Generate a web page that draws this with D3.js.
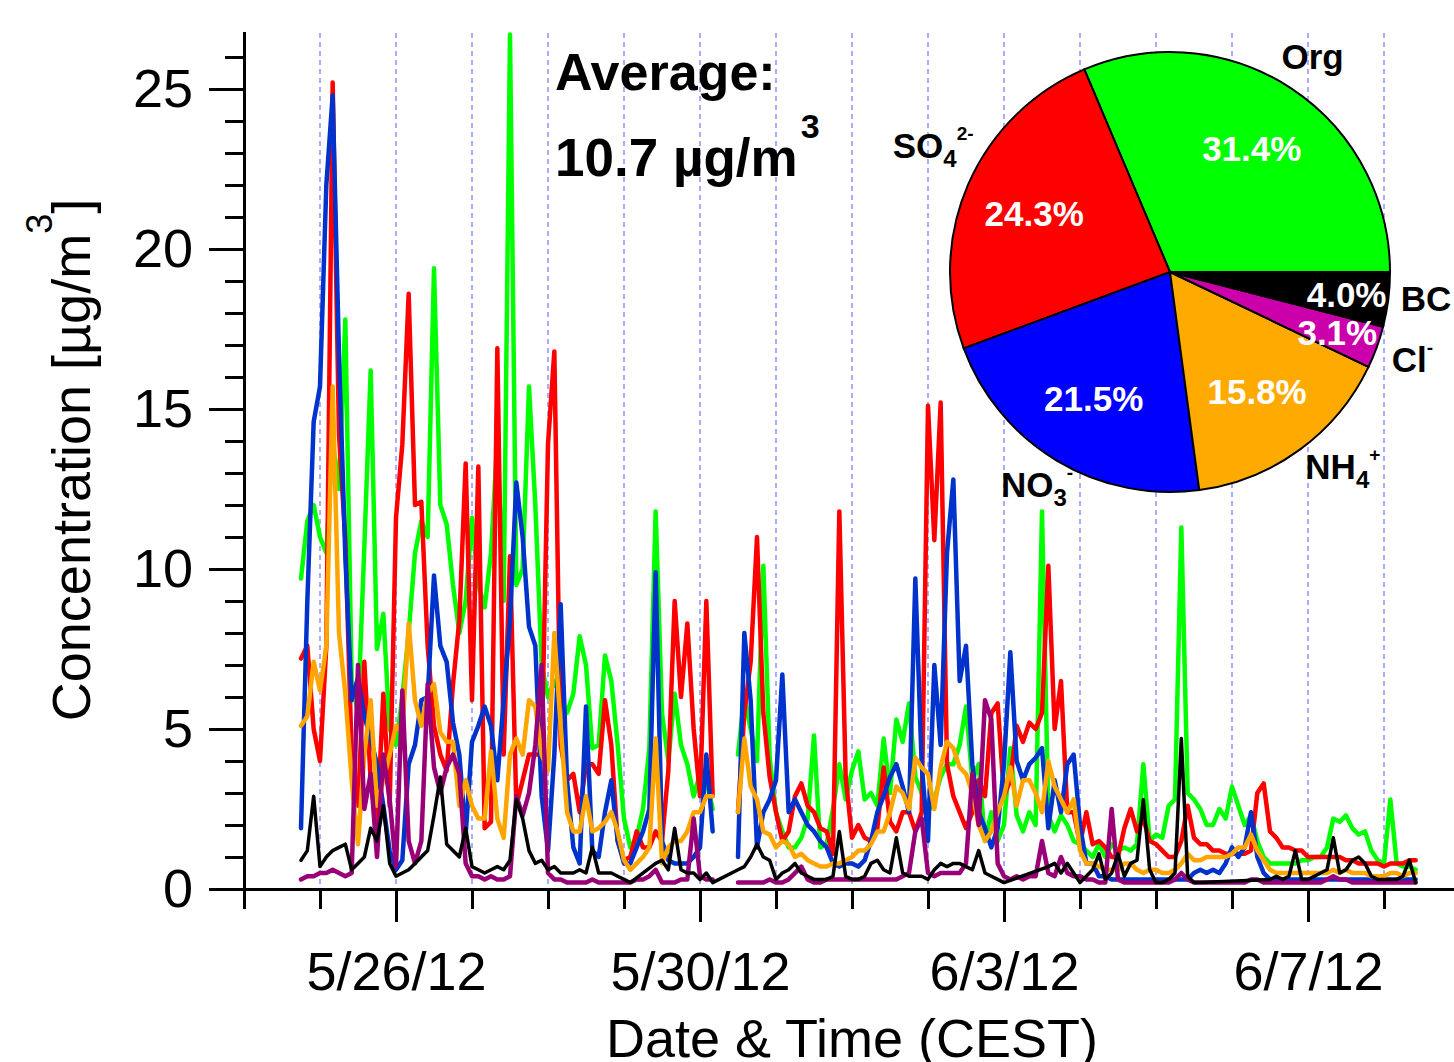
<!DOCTYPE html>
<html>
<head>
<meta charset="utf-8">
<title>PM1 composition</title>
<script src="https://cdn.jsdelivr.net/npm/d3@7/dist/d3.min.js"></script>
<style>
	body { margin: 0; background: #fff; }
	#chart { display: block; font-family: "Liberation Sans", Arial, sans-serif; }
</style>
</head>
<body>
<svg id="chart" width="1454" height="1062"></svg>
<script>
// 2-hourly values, first point 5/24/12 18:00 CEST, one row per day
var startTime = new Date(2012, 4, 24, 18);
var stepHours = 2;

var org = [
	9.7, 11.5, 12.0,
	11.0, 10.5, 14.0, 12.5, 17.8, 6.5, 5.5, 10.7, 16.2, 7.5, 8.6, 5.0,
	4.5, 6.0, 8.0, 10.5, 11.5, 11.0, 19.4, 12.0, 11.4, 9.5, 8.0, 9.0,
	11.6, 9.5, 8.8, 10.5, 14.0, 9.0, 26.7, 9.5, 10.0, 15.7, 12.0, 7.0,
	6.0, 6.5, 6.0, 5.5, 6.1, 7.9, 7.0, 4.4, 4.5, 7.3, 6.5, 4.5,
	2.2, 1.3, 1.6, 2.5, 4.4, 11.8, 5.5, 4.0, 6.1, 4.5, 3.9, 2.9,
	3.6, 3.4, 2.5, null, null, null, 4.2, 6.0, 5.0, 4.0, 10.1, 4.1,
	2.4, 1.8, 1.3, 1.3, 1.6, 2.2, 4.8, 1.3, 1.4, 2.5, 3.9, 2.8,
	3.7, 4.3, 2.8, 3.0, 2.6, 4.7, 3.0, 5.3, 4.6, 5.8, 3.5, 3.0,
	2.4, 2.8, 3.5, 3.9, 3.9, 4.5, 5.7, 3.4, 3.9, 1.5, 2.4, 1.5,
	2.0, 4.4, 2.3, 1.8, 2.4, 2.0, 11.8, 2.3, 1.8, 2.3, 2.0, 1.5,
	1.4, 1.2, 1.0, 1.4, 1.0, 1.4, 1.2, 1.3, 1.2, 1.4, 3.9, 1.5,
	1.7, 1.6, 2.6, 2.8, 11.3, 3.0, 2.8, 2.5, 2.0, 2.0, 2.5, 2.2,
	3.2, 2.6, 2.0, 2.3, 1.5, 1.0, 0.8, 0.8, 0.8, 0.8, 0.8, 0.9,
	0.9, 1.0, 1.0, 1.3, 2.2, 2.1, 2.3, 1.9, 1.7, 1.8, 1.2, 0.9,
	0.8, 2.8, 0.8, 0.7, 0.7, 0.6
];

var so4 = [
	7.2, 7.6, 5.0,
	4.0, 7.6, 25.2, 14.2, 10.9, 4.2, 2.6, 7.1, 3.4, 1.9, 6.1, 2.6,
	11.6, 13.9, 18.6, 12.0, 12.1, 7.6, 5.1, 4.2, 3.7, 6.4, 8.4, 13.3,
	5.9, 13.2, 1.9, 2.1, 16.9, 4.2, 10.4, 2.6, 3.4, 4.2, 4.2, 4.2,
	13.9, 16.8, 4.5, 3.4, 3.6, 2.4, 3.9, 3.9, 3.6, 5.9, 4.5, 1.5,
	0.9, 1.0, 1.8, 1.3, 1.3, 1.8, 1.5, 3.7, 9.0, 6.0, 8.3, 5.0,
	2.9, 9.0, 2.9, null, null, null, 2.4, 5.5, 7.1, 11.0, 5.5, 3.5,
	2.4, 1.5, 1.8, 2.9, 3.3, 2.6, 2.4, 1.9, 1.8, 1.1, 11.8, 3.5,
	1.6, 2.0, 1.6, 1.5, 1.9, 3.8, 2.1, 1.8, 2.4, 2.4, 1.8, 2.4,
	15.1, 10.9, 15.2, 3.9, 2.9, 2.4, 1.9, 2.4, 3.4, 2.9, 5.5, 5.8,
	2.9, 3.4, 5.1, 4.6, 5.2, 5.0, 5.5, 10.1, 5.0, 6.5, 2.4, 2.4,
	1.4, 2.4, 1.4, 1.5, 1.3, 1.0, 1.0, 1.9, 2.5, 1.8, 2.2, 1.5,
	1.4, 1.2, 1.0, 1.0, 1.5, 2.6, 1.6, 1.4, 1.4, 1.2, 1.2, 1.1,
	1.1, 1.1, 1.1, 1.2, 3.0, 3.3, 1.8, 1.6, 1.3, 1.3, 1.2, 1.2,
	1.0, 1.0, 1.0, 1.0, 1.0, 1.0, 0.9, 0.9, 0.8, 0.8, 0.8, 0.8,
	0.7, 0.8, 0.8, 0.8, 0.9, 0.9
];

var no3 = [
	1.9, 9.0, 14.6,
	15.7, 22.0, 24.8, 16.7, 10.4, 5.9, 6.6, 5.4, 4.7, 3.9, 2.6, 1.2,
	0.6, 0.9, 3.9, 4.5, 5.9, 6.0, 9.8, 7.6, 7.1, 5.2, 4.2, 1.7,
	4.6, 5.1, 5.7, 5.1, 3.4, 5.9, 8.4, 12.7, 11.0, 8.2, 7.6, 2.9,
	1.2, 4.2, 8.9, 3.4, 1.3, 0.8, 5.7, 1.2, 1.0, 2.4, 3.4, 1.5,
	0.8, 0.8, 1.3, 1.8, 2.5, 9.9, 1.5, 0.9, 0.8, 0.8, 0.8, 1.0,
	1.3, 4.2, 1.8, null, null, null, 1.0, 8.0, 5.9, 1.3, 2.4, 2.8,
	3.4, 6.7, 2.4, 2.8, 2.4, 2.0, 1.8, 1.5, 1.3, 0.8, 0.7, 0.8,
	0.8, 0.7, 0.9, 1.5, 2.4, 2.9, 3.5, 3.9, 3.2, 2.4, 9.7, 3.9,
	1.5, 7.0, 4.5, 10.5, 12.8, 6.5, 7.6, 3.9, 2.4, 1.9, 1.3, 1.9,
	3.9, 7.4, 4.0, 3.4, 3.9, 4.1, 4.4, 1.9, 3.4, 2.4, 3.9, 4.2,
	2.0, 0.8, 0.8, 0.4, 0.4, 0.3, 0.3, 0.3, 0.3, 0.3, 0.3, 0.3,
	0.3, 0.3, 0.3, 0.3, 0.3, 0.3, 0.5, 0.6, 0.5, 0.6, 0.5, 0.8,
	1.3, 1.0, 1.3, 2.4, 1.0, 0.5, 0.3, 0.3, 0.3, 0.3, 0.3, 0.3,
	0.3, 0.3, 0.3, 0.3, 0.3, 0.3, 0.3, 0.3, 0.3, 0.3, 0.3, 0.3,
	0.3, 0.3, 0.3, 0.3, 0.3, 0.3
];

var nh4 = [
	5.1, 5.4, 7.1,
	6.2, 7.6, 15.7, 8.0, 6.1, 3.4, 1.4, 4.2, 5.9, 2.6, 3.4, 4.2,
	5.1, 4.9, 8.3, 5.9, 5.1, 6.1, 6.4, 4.9, 4.6, 4.6, 2.6, 3.4,
	2.6, 2.2, 2.2, 4.3, 2.2, 1.6, 4.2, 4.7, 4.2, 5.9, 5.7, 4.2,
	3.7, 8.0, 5.1, 2.4, 1.8, 1.8, 2.9, 1.8, 1.9, 2.1, 2.4, 1.8,
	0.9, 0.6, 0.8, 1.0, 1.3, 4.7, 0.8, 1.3, 1.5, 1.5, 1.8, 2.4,
	2.4, 2.9, 2.9, null, null, null, 2.4, 4.7, 3.2, 2.8, 1.8, 1.7,
	1.3, 1.5, 1.4, 1.0, 1.1, 0.9, 0.8, 0.7, 0.7, 0.8, 0.8, 0.9,
	1.0, 1.2, 1.2, 1.4, 1.8, 1.8, 2.4, 3.2, 3.0, 2.5, 4.1, 3.8,
	3.6, 2.5, 3.8, 4.6, 4.4, 3.8, 3.6, 3.0, 2.0, 1.5, 1.8, 2.4,
	2.9, 3.8, 2.6, 3.4, 3.4, 3.0, 2.4, 4.0, 3.2, 2.8, 2.4, 2.8,
	1.2, 0.8, 0.8, 0.7, 0.6, 0.6, 0.6, 0.8, 0.8, 0.6, 0.5, 0.6,
	0.6, 0.5, 0.5, 0.6, 0.8, 1.1, 0.9, 0.9, 1.0, 1.0, 1.0, 1.0,
	1.1, 1.3, 1.3, 1.7, 1.2, 0.9, 0.6, 0.5, 0.5, 0.5, 0.5, 0.5,
	0.5, 0.5, 0.5, 0.5, 0.6, 0.5, 0.6, 0.5, 0.5, 0.5, 0.4, 0.4,
	0.4, 0.5, 0.5, 0.4, 0.5, 0.5
];

var chl = [
	0.3, 0.4, 0.4,
	0.5, 0.5, 0.6, 0.5, 0.4, 0.5, 7.0, 2.5, 3.6, 1.0, 4.2, 2.8,
	0.7, 6.2, 1.5, 0.8, 1.5, 6.4, 3.8, 3.0, 3.8, 4.2, 3.6, 0.8,
	0.4, 0.4, 0.3, 0.4, 0.3, 0.3, 0.4, 2.9, 2.3, 3.0, 4.5, 7.0,
	0.5, 0.3, 0.3, 0.2, 0.2, 0.2, 0.2, 0.3, 0.2, 0.2, 0.2, 0.2,
	0.2, 0.2, 0.3, 0.3, 0.4, 0.6, 0.2, 0.2, 0.2, 0.3, 0.3, 2.2,
	0.4, 0.3, 0.3, null, null, null, 0.2, 0.2, 0.2, 0.2, 0.2, 0.3,
	0.2, 0.2, 0.3, 0.5, 0.7, 0.3, 0.2, 0.2, 0.3, 0.3, 0.3, 0.3,
	0.3, 0.3, 0.3, 0.3, 0.3, 0.3, 0.3, 0.3, 0.4, 0.5, 1.8, 2.2,
	0.5, 0.4, 0.5, 0.5, 0.5, 0.5, 0.8, 3.6, 2.0, 5.9, 5.3, 0.8,
	0.4, 0.3, 0.4, 0.3, 0.4, 0.4, 1.5, 0.5, 0.4, 1.0, 0.5, 0.4,
	0.4, 0.3, 0.3, 0.2, 0.2, 2.5, 0.3, 0.2, 0.2, 0.2, 0.2, 0.2,
	0.2, 0.2, 0.2, 0.3, 0.5, 0.3, 0.2, 0.2, 0.2, 0.2, 0.2, 0.2,
	0.2, 0.2, 0.2, 0.3, 0.3, 0.2, 0.2, 0.2, 0.2, 0.2, 0.2, 0.2,
	0.2, 0.2, 0.2, 0.3, 0.4, 0.3, 0.3, 0.2, 0.2, 0.2, 0.2, 0.2,
	0.2, 0.2, 0.2, 0.2, 0.2, 0.2
];

var bc = [
	0.9, 1.2, 2.9,
	0.7, 1.0, 1.2, 1.3, 1.4, 0.6, 0.8, 1.0, 1.9, 1.5, 2.6, 0.8,
	0.4, 0.5, 0.6, 0.8, 1.0, 1.2, 2.3, 3.5, 1.4, 1.2, 1.0, 1.9,
	0.7, 0.6, 0.5, 0.6, 0.7, 0.6, 0.9, 2.8, 2.2, 1.2, 0.8, 0.9,
	0.6, 0.7, 0.5, 0.5, 0.5, 0.6, 0.5, 1.3, 0.5, 0.5, 0.5, 0.4,
	0.3, 0.2, null, null, null, 0.8, 0.9, 0.6, 1.9, 0.6, 0.5, 0.5,
	0.3, 0.5, 0.2, null, null, null, 0.6, 0.7, 1.0, 1.4, 1.0, 0.9,
	0.3, 0.5, 0.6, 0.8, 0.5, 0.4, 0.3, 0.3, 0.3, 0.4, 1.8, 0.4,
	0.3, 0.3, 0.4, 0.8, 0.9, 0.6, 0.5, 1.6, 0.5, 0.4, 0.4, 0.4,
	0.3, 0.6, 0.8, 0.7, 0.8, 0.8, 0.7, 0.6, 1.2, 0.5, 0.4, 0.3,
	0.2, null, null, null, null, null, null, 0.7, 0.8, 0.5, 0.8, 0.5,
	0.2, 0.4, 0.6, 1.1, 0.3, 0.5, 1.1, 0.4, 0.8, 0.9, 2.8, 0.6,
	0.2, 0.2, 0.3, 0.5, 4.7, 0.4, 0.2, 0.2, null, null, null, null,
	null, null, null, null, null, null, 0.3, 0.4, 0.3, 0.4, 1.2, 0.3,
	0.3, 0.4, 0.5, 0.6, 1.6, 0.5, 0.6, 0.9, 1.0, 0.8, 0.4, 0.3,
	0.3, 0.3, 0.3, 0.4, 0.9, 0.2
];

var lineColors = ['#00ff00', '#ff0000', '#0033cc', '#ffa500', '#990077', '#000000'];

// pie of campaign averages
var pieNames = ['Org', 'SO4', 'NO3', 'NH4', 'Cl', 'BC'];
var pieShares = [31.4, 24.3, 21.5, 15.8, 3.1, 4.0];
var pieColors = ['#00ff00', '#ff0000', '#0000ff', '#ffaa00', '#cc00aa', '#000000'];
var average = '10.7';

var xStart = new Date(2012, 4, 24);
var xEnd = new Date(2012, 5, 9);
var labelDates = [new Date(2012, 4, 26), new Date(2012, 4, 30), new Date(2012, 5, 3), new Date(2012, 5, 7)];
var yMax = 26.75;
var yMajor = [0, 5, 10, 15, 20, 25];

var svg = d3.select('#chart');
var mLeft = 244, mRight = 1460, mTop = 33, mBottom = 889;

var x = d3.scaleTime()
	.domain([xStart, xEnd])
	.range([mLeft, mRight]);

var y = d3.scaleLinear()
	.domain([0, yMax])
	.range([mBottom, mTop]);

var days = d3.timeDay.range(xStart, xEnd);

// dashed day lines
svg.append('g')
	.selectAll('line')
	.data(days)
	.enter()
	.append('line')
	.attr('x1', d => x(d))
	.attr('x2', d => x(d))
	.attr('y1', mTop)
	.attr('y2', mBottom)
	.attr('stroke', '#7474ff')
	.attr('stroke-width', 1.2)
	.attr('stroke-dasharray', '5,4');

var series = [org, so4, no3, nh4, chl, bc].map(function(vals) {
	return vals.map(function(v, i) {
		return {t: d3.timeHour.offset(startTime, i * stepHours), v: v};
	});
});

var line = d3.line()
	.defined(d => d.v !== null)
	.x(d => x(d.t))
	.y(d => y(d.v));

series.forEach(function(s, k) {
	// BC gaps are bridged, the AMS species break
	var pts = k === 5 ? s.filter(d => d.v !== null) : s;
	svg.append('path')
		.attr('d', line(pts))
		.attr('fill', 'none')
		.attr('stroke', lineColors[k])
		.attr('stroke-width', k === 5 ? 3.5 : 4.5)
		.attr('stroke-linejoin', 'round')
		.attr('stroke-linecap', 'round');
});

var fmt = function(d) {
	return (d.getMonth() + 1) + '/' + d.getDate() + '/' + String(d.getFullYear()).slice(2);
};

var styleAxis = function(g) {
	g.attr('font-family', null).attr('font-size', null);
	g.select('.domain').attr('stroke-width', 3).attr('stroke-linecap', 'square');
	g.selectAll('.tick line').attr('stroke-width', 3);
	g.selectAll('.tick text').attr('font-size', 54).attr('fill', '#000');
};

svg.append('g')
	.attr('transform', `translate(0,${mBottom})`)
	.call(d3.axisBottom(x).tickValues(days).tickSize(20).tickSizeOuter(0).tickFormat(''))
	.call(styleAxis);
svg.append('g')
	.attr('transform', `translate(0,${mBottom})`)
	.call(d3.axisBottom(x).tickValues(labelDates).tickSize(33).tickSizeOuter(0).tickPadding(30).tickFormat(fmt))
	.call(styleAxis);

svg.append('g')
	.attr('transform', `translate(${mLeft},0)`)
	.call(d3.axisLeft(y).tickValues(d3.range(0, 27)).tickSize(19).tickSizeOuter(0).tickFormat(''))
	.call(styleAxis);
svg.append('g')
	.attr('transform', `translate(${mLeft},0)`)
	.call(d3.axisLeft(y).tickValues(yMajor).tickSize(35).tickSizeOuter(0).tickPadding(16))
	.call(styleAxis);

// axis titles
svg.append('text')
	.attr('x', 852)
	.attr('y', 1057)
	.attr('text-anchor', 'middle')
	.attr('font-size', 54)
	.text('Date & Time (CEST)');

var yTitle = svg.append('text')
	.attr('transform', 'translate(90,460) rotate(-90)')
	.attr('text-anchor', 'middle')
	.attr('font-size', 54);
yTitle.append('tspan').text('Concentration [µg/m');
yTitle.append('tspan').attr('font-size', 36).attr('dy', -38).text('3');
yTitle.append('tspan').attr('dy', 38).text(']');

// average note
svg.append('text')
	.attr('x', 555)
	.attr('y', 90)
	.attr('font-size', 52)
	.attr('font-weight', 'bold')
	.text('Average:');
var avg = svg.append('text')
	.attr('x', 555)
	.attr('y', 176)
	.attr('font-size', 53)
	.attr('font-weight', 'bold');
avg.append('tspan').text(average + ' µg/m');
avg.append('tspan').attr('font-size', 34).attr('dy', -38).attr('dx', 3).text('3');

// pie, counter-clockwise from 3 o'clock
var pie = d3.pie()
	.sort(null)
	.startAngle(Math.PI / 2)
	.endAngle(Math.PI / 2 - 2 * Math.PI);
var arcs = pie(pieShares);
var R = 220;
var arc = d3.arc().innerRadius(0).outerRadius(R);
var arcIn = d3.arc().innerRadius(148).outerRadius(148);
var arcOut = d3.arc().innerRadius(178).outerRadius(178);
var arcName = d3.arc().innerRadius(258).outerRadius(258);

var pg = svg.append('g').attr('transform', 'translate(1170,272)');

pg.selectAll('path')
	.data(arcs)
	.enter()
	.append('path')
	.attr('d', arc)
	.attr('fill', (d, i) => pieColors[i])
	.attr('stroke', '#000')
	.attr('stroke-width', 2);

pg.selectAll('.pct')
	.data(arcs)
	.enter()
	.append('text')
	.attr('class', 'pct')
	.attr('transform', d => 'translate(' + (d.data < 5 ? arcOut : arcIn).centroid(d) + ')')
	.attr('dy', '0.36em')
	.attr('text-anchor', 'middle')
	.attr('font-size', 35)
	.attr('font-weight', 'bold')
	.attr('fill', '#fff')
	.text(d => d.data.toFixed(1) + '%');

// names with sub/superscripts
var nameParts = {
	Org: [['Org']],
	SO4: [['SO'], ['4', 'sub'], ['2-', 'sup']],
	NO3: [['NO'], ['3', 'sub'], ['-', 'sup']],
	NH4: [['NH'], ['4', 'sub'], ['+', 'sup']],
	Cl: [['Cl'], ['-', 'sup']],
	BC: [['BC']]
};
var nudge = {SO4: [0, -24], NO3: [0, -8], NH4: [21, -14], BC: [0, -5]};

arcs.forEach(function(d, i) {
	var name = pieNames[i];
	var c = arcName.centroid(d);
	var n = nudge[name] || [0, 0];
	var t = pg.append('text')
		.attr('x', c[0] + n[0])
		.attr('y', c[1] + 12 + n[1])
		.attr('text-anchor', 'middle')
		.attr('font-size', 35)
		.attr('font-weight', 'bold');
	var shift = 0;
	nameParts[name].forEach(function(p) {
		var s = t.append('tspan').text(p[0]);
		if (p[1] === 'sub') {
			s.attr('font-size', 24).attr('dy', 9 - shift);
			shift = 9;
		} else if (p[1] === 'sup') {
			s.attr('font-size', 19).attr('dy', -18 - shift);
			shift = -18;
		}
	});
});
</script>
</body>
</html>
